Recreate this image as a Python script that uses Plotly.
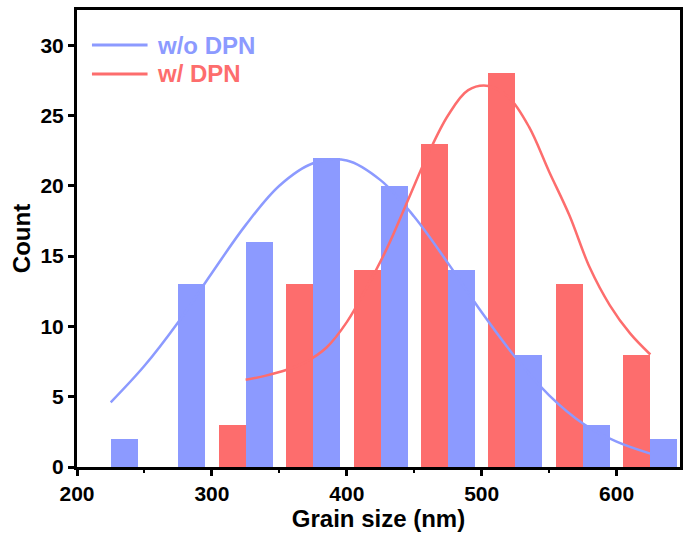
import plotly.graph_objects as go

# Histogram bins (bin centres, nm)
blue_bar_x = [235, 285, 335, 385, 435, 485, 535, 585, 635]
blue_counts = [2, 13, 16, 22, 20, 14, 8, 3, 2]
red_bar_x = [315, 365, 415, 465, 515, 565, 615]
red_counts = [3, 13, 14, 23, 28, 13, 8]

# Fitted curves
blue_fit_x = [225, 250, 275, 300, 325, 350, 375, 400, 425, 450, 475, 500, 525, 550, 575, 600, 625]
blue_fit_y = [4.6, 7.2, 10.3, 13.8, 17.2, 20.0, 21.6, 21.8, 20.4, 17.8, 14.5, 11.0, 7.8, 5.1, 3.1, 1.8, 0.95]
red_fit_x = [325, 340, 355, 370, 385, 400, 415, 430, 445, 460, 475, 490, 505, 520, 535, 550, 565, 580, 595, 610, 625]
red_fit_y = [6.2, 6.5, 6.9, 7.5, 8.5, 10.3, 12.8, 15.6, 18.9, 22.2, 25.0, 26.8, 27.1, 26.3, 24.2, 21.0, 17.9, 14.2, 11.5, 9.5, 8.0]

legend_labels = ["w/o DPN", "w/ DPN"]

BLUE = "#8C9AFF"
RED = "#FD6D6D"
FONT = "Liberation Sans, Arial, sans-serif"

fig = go.Figure()
fig.add_trace(go.Scatter(x=blue_fit_x, y=blue_fit_y, mode="lines", line=dict(color=BLUE, width=2.5, shape="spline"),
                         name=legend_labels[0], showlegend=False))
fig.add_trace(go.Scatter(x=red_fit_x, y=red_fit_y, mode="lines", line=dict(color=RED, width=2.5, shape="spline"),
                         name=legend_labels[1], showlegend=False))
fig.add_trace(go.Bar(x=red_bar_x, y=red_counts, width=20, marker=dict(color=RED, line=dict(width=0)), showlegend=False))
fig.add_trace(go.Bar(x=blue_bar_x, y=blue_counts, width=20, marker=dict(color=BLUE, line=dict(width=0)), showlegend=False))

# Legend drawn as line samples + coloured labels
legend_rows = [(0.9234, BLUE), (0.860, RED)]
for (ypos, col), label in zip(legend_rows, legend_labels):
    fig.add_shape(type="line", xref="paper", yref="paper", x0=0.0248, x1=0.117, y0=ypos, y1=ypos,
                  line=dict(color=col, width=3))
    fig.add_annotation(xref="paper", yref="paper", x=0.1287, y=ypos, xanchor="left", yanchor="middle",
                       text=label, showarrow=False, font=dict(size=24, family=FONT, weight="bold", color=col))

fig.update_layout(
    width=683, height=536,
    margin=dict(l=77, r=0, t=10, b=69),
    paper_bgcolor="white", plot_bgcolor="white",
    barmode="overlay", bargap=0,
    font=dict(family=FONT, size=21, color="black", weight="bold"),
    showlegend=False,
)
fig.update_xaxes(range=[200, 647], tickvals=[200, 300, 400, 500, 600], showgrid=False, zeroline=False,
                 showline=True, linecolor="black", linewidth=3, mirror=True,
                 ticks="outside", ticklen=6, tickwidth=2.5, tickcolor="black",
                 minor=dict(tickvals=[250, 350, 450, 550], ticks="outside", ticklen=3, tickwidth=2, tickcolor="black"),
                 tickfont=dict(size=21, family=FONT, weight="bold"),
                 title=dict(text="Grain size (nm)", font=dict(size=24, family=FONT, weight="bold"), standoff=4))
fig.update_yaxes(range=[0, 32.5], tickvals=[0, 5, 10, 15, 20, 25, 30], showgrid=False, zeroline=False,
                 showline=True, linecolor="black", linewidth=3, mirror=True,
                 ticks="outside", ticklen=6, tickwidth=2.5, tickcolor="black",
                 tickfont=dict(size=21, family=FONT, weight="bold"),
                 title=dict(text="Count", font=dict(size=24, family=FONT, weight="bold"), standoff=4))

fig.write_html("out.html")
